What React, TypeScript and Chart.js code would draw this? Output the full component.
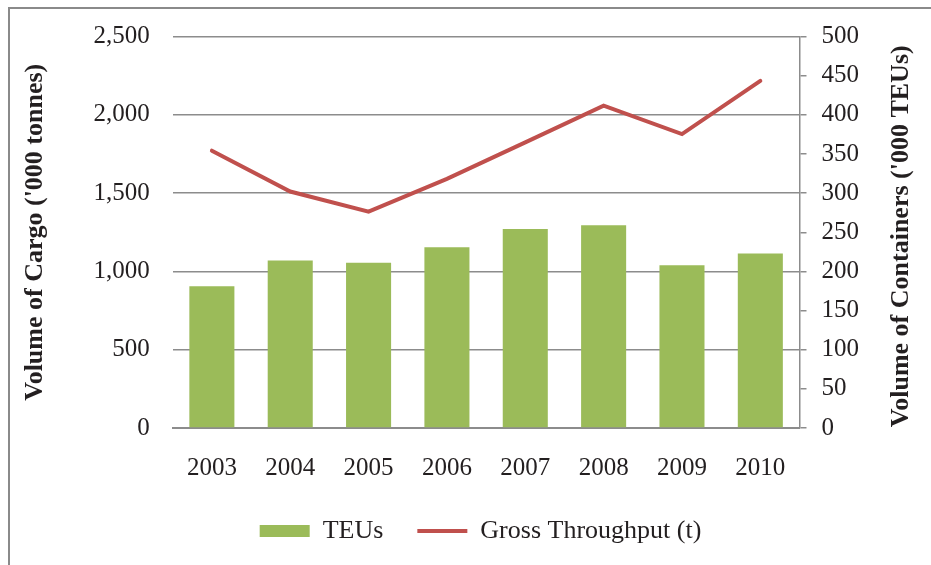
import React, { useEffect, useRef } from "react";
import { Chart, registerables } from "chart.js";

Chart.register(...registerables);

const years = ["2003", "2004", "2005", "2006", "2007", "2008", "2009", "2010"];
// '000 TEUs (right axis)
const teus = [181, 214, 211, 231, 254, 259, 208, 223];
// '000 tonnes (left axis)
const grossThroughput = [1771, 1510, 1382, 1591, 1824, 2058, 1877, 2217];

const leftTitle = "Volume of Cargo ('000 tonnes)";
const rightTitle = "Volume of Containers ('000 TEUs)";
const teuLabel = "TEUs";
const grossLabel = "Gross Throughput (t)";

const FONT = '"Liberation Serif", "Times New Roman", serif';
const TEXT = "#231f20";
const GRID = "#8c8c8c";
const GREEN = "#9bbb59";
const RED = "#c0504d";

const CANVAS_W = 939;
const CANVAS_H = 556;

const rightTitlePlugin = {
  id: "rightTitle",
  afterDraw(chart: any) {
    const { ctx, chartArea } = chart;
    ctx.save();
    ctx.translate(chartArea.right + 102, (chartArea.top + chartArea.bottom) / 2 + 4);
    ctx.rotate(-Math.PI / 2);
    ctx.font = `bold 26px ${FONT}`;
    ctx.fillStyle = TEXT;
    ctx.textAlign = "center";
    ctx.textBaseline = "middle";
    ctx.fillText(rightTitle, 0, 0);
    ctx.restore();
  },
};

export default function App() {
  const ref = useRef<HTMLCanvasElement | null>(null);

  useEffect(() => {
    if (!ref.current) return;
    const chart = new Chart(ref.current, {
      type: "bar",
      data: {
        labels: years,
        datasets: [
          {
            type: "bar",
            label: teuLabel,
            data: teus,
            yAxisID: "y1",
            backgroundColor: GREEN,
            borderWidth: 0,
            barPercentage: 0.575,
            categoryPercentage: 1,
            pointStyle: "rect",
            order: 1,
          } as any,
          {
            type: "line",
            label: grossLabel,
            data: grossThroughput,
            yAxisID: "y",
            borderColor: RED,
            backgroundColor: RED,
            borderWidth: 4,
            pointRadius: 0,
            pointHoverRadius: 0,
            pointStyle: "line",
            borderCapStyle: "round",
            borderJoinStyle: "miter",
            tension: 0,
            order: 0,
          } as any,
        ],
      },
      options: {
        responsive: false,
        animation: false,
        devicePixelRatio: 1,
        layout: { padding: { left: 2, right: 0, top: 27, bottom: 11 } },
        plugins: {
          tooltip: { enabled: false },
          legend: {
            position: "bottom",
            labels: {
              usePointStyle: true,
              pointStyleWidth: 50,
              boxHeight: 12,
              padding: 34,
              color: TEXT,
              font: { family: FONT, size: 26 },
              sort: (a: any, b: any) => a.datasetIndex - b.datasetIndex,
            },
          },
        },
        scales: {
          x: {
            grid: { display: false },
            border: { display: true, color: GRID, width: 2 },
            ticks: { color: TEXT, font: { family: FONT, size: 25 }, padding: 17 },
            afterFit: (s: any) => {
              s.height = 56;
            },
          },
          y: {
            position: "left",
            min: 0,
            max: 2500,
            ticks: { stepSize: 500, color: TEXT, font: { family: FONT, size: 25, lineHeight: 1 }, padding: 3 },
            grid: { color: GRID, lineWidth: 1.5, drawTicks: true, tickLength: 20, tickColor: "rgba(0,0,0,0)" },
            border: { display: false },
            title: {
              display: true,
              text: leftTitle,
              color: TEXT,
              font: { family: FONT, size: 26, weight: "bold" },
              padding: { top: 8, bottom: 0 },
            },
            afterFit: (s: any) => {
              s.width = 160.7;
            },
          },
          y1: {
            position: "right",
            min: 0,
            max: 500,
            ticks: { stepSize: 50, color: TEXT, font: { family: FONT, size: 25, lineHeight: 1 }, padding: 15 },
            grid: { drawOnChartArea: false, drawTicks: true, tickLength: 7, color: GRID, lineWidth: 1.5 },
            border: { display: true, color: GRID, width: 1.5 },
            afterFit: (s: any) => {
              s.width = CANVAS_W - 789.5;
            },
          },
        },
      } as any,
      plugins: [rightTitlePlugin],
    });
    return () => chart.destroy();
  }, []);

  return (
    <div
      style={{
        position: "fixed",
        left: 0,
        top: 0,
        width: 931,
        height: 565,
        overflow: "hidden",
        background: "#fff",
      }}
    >
      <div
        style={{
          position: "absolute",
          left: 8,
          top: 7,
          width: 1000,
          height: 1000,
          border: "2px solid #8a8a8a",
          boxSizing: "border-box",
        }}
      />
      <canvas
        ref={ref}
        width={CANVAS_W}
        height={CANVAS_H}
        style={{ position: "absolute", left: 10, top: 9, width: CANVAS_W, height: CANVAS_H }}
      />
    </div>
  );
}
